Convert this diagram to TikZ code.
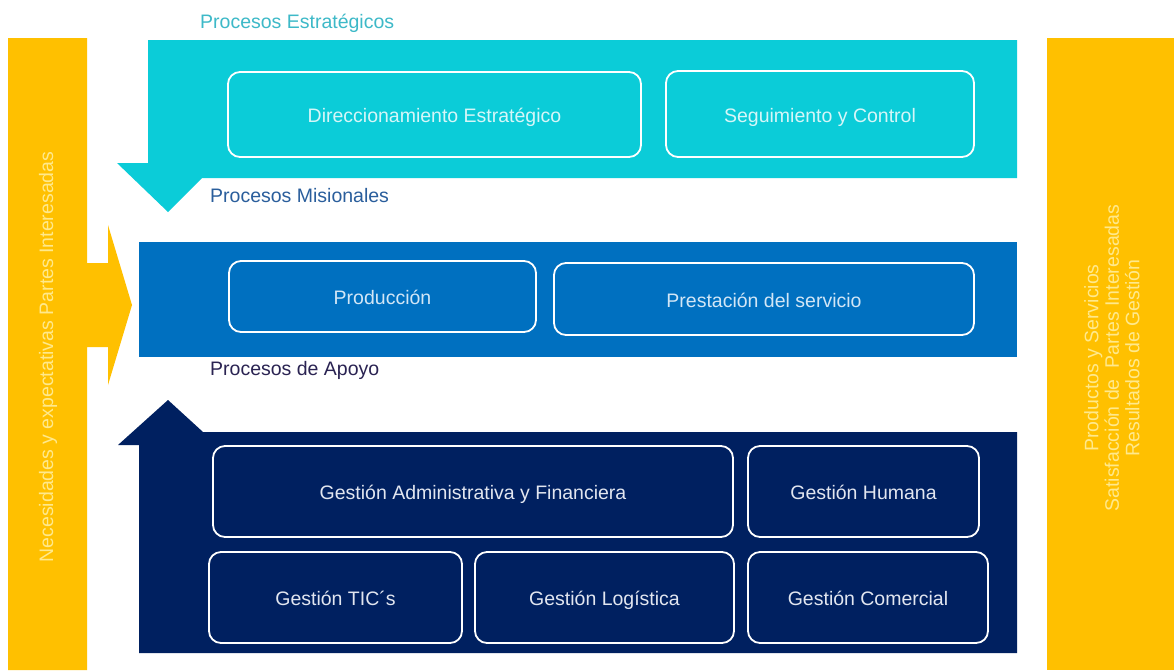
\documentclass[tikz,border=0pt]{standalone}
\usepackage{fontspec}
\setmainfont{Liberation Sans}
\definecolor{gold}{HTML}{FFC000}
\definecolor{cyanp}{HTML}{0BCCD8}
\definecolor{bluep}{HTML}{0070C0}
\definecolor{navyp}{HTML}{002060}
\definecolor{goldtxt}{HTML}{FFE98C}
\definecolor{cyantxt}{HTML}{D6F6F8}
\definecolor{bluetxt}{HTML}{D2E6F6}
\definecolor{navytxt}{HTML}{E2E6F0}
\definecolor{lblcyan}{HTML}{3DB9C8}
\definecolor{lblblue}{HTML}{2A5E9C}
\definecolor{lblnavy}{HTML}{2A2352}
\tikzset{
  pbox/.style={draw=white, line width=1.8pt, rounded corners=12pt, inner sep=0pt, align=center, text height=16pt, text depth=0pt, font=\fontsize{19.5}{23}\selectfont},
  plabel/.style={anchor=west, inner sep=0pt, text height=15pt, text depth=0pt, font=\fontsize{19.5}{23}\selectfont},
  vtext/.style={rotate=90, inner sep=0pt, align=center, text=goldtxt, font=\fontsize{19.5}{20.5}\selectfont}
}
\begin{document}
\begin{tikzpicture}[x=1pt,y=-1pt]
\useasboundingbox (0,0) rectangle (1174,670);
\fill[white] (0,0) rectangle (1174,670);
% left gold bar with arrow
\fill[gold] (8,38) -- (87,38) -- (87,263) -- (108,263) -- (108,225) -- (132,305) -- (108,385) -- (108,347) -- (87,347) -- (87,670) -- (8,670) -- cycle;
% right gold bar
\fill[gold] (1047,38) rectangle (1174,670);
% strategic (cyan) bent arrow
\fill[cyanp] (148,40) -- (1017,40) -- (1017,178) -- (202,178) -- (168,212) -- (117,163) -- (148,163) -- cycle;
% misional (blue) band
\fill[bluep] (139,242) rectangle (1017,357);
% support (navy) up arrow
\fill[navyp] (139,653) -- (139,445) -- (118,445) -- (168,400) -- (203,432) -- (1017,432) -- (1017,653) -- cycle;

% labels
\node[plabel, text=lblcyan] (lest) at (200,21) {Procesos Estratégicos};
\node[plabel, text=lblblue] (lmis) at (210,195) {Procesos Misionales};
\node[plabel, text=lblnavy] (lapo) at (210,368) {Procesos de Apoyo};

% strategic boxes
\node[pbox, text=cyantxt, minimum width=413pt, minimum height=85pt] (dir) at (434.5,114.5) {Direccionamiento Estratégico};
\node[pbox, text=cyantxt, minimum width=308pt, minimum height=86pt] (seg) at (820,114) {Seguimiento y Control};
% misional boxes
\node[pbox, text=bluetxt, minimum width=307pt, minimum height=71pt] (prod) at (382.5,296.5) {Producción};
\node[pbox, text=bluetxt, minimum width=420pt, minimum height=72pt] (prest) at (764,299) {Prestación del servicio};
% support boxes
\node[pbox, text=navytxt, minimum width=520pt, minimum height=91pt] (adm) at (473,491.5) {Gestión Administrativa y Financiera};
\node[pbox, text=navytxt, minimum width=231pt, minimum height=91pt] (hum) at (863.5,491.5) {Gestión Humana};
\node[pbox, text=navytxt, minimum width=253pt, minimum height=91pt] (tic) at (335.5,597.5) {Gestión TIC´s};
\node[pbox, text=navytxt, minimum width=259pt, minimum height=91pt] (log) at (604.5,597.5) {Gestión Logística};
\node[pbox, text=navytxt, minimum width=240pt, minimum height=91pt] (com) at (868,597.5) {Gestión Comercial};

% vertical texts
\node[vtext] (left) at (48,357) {Necesidades y expectativas Partes Interesadas};
\node[vtext] (right) at (1112,358) {Productos y Servicios\\Satisfacción de\ \ Partes Interesadas\\Resultados de Gestión};
\end{tikzpicture}
\end{document}
